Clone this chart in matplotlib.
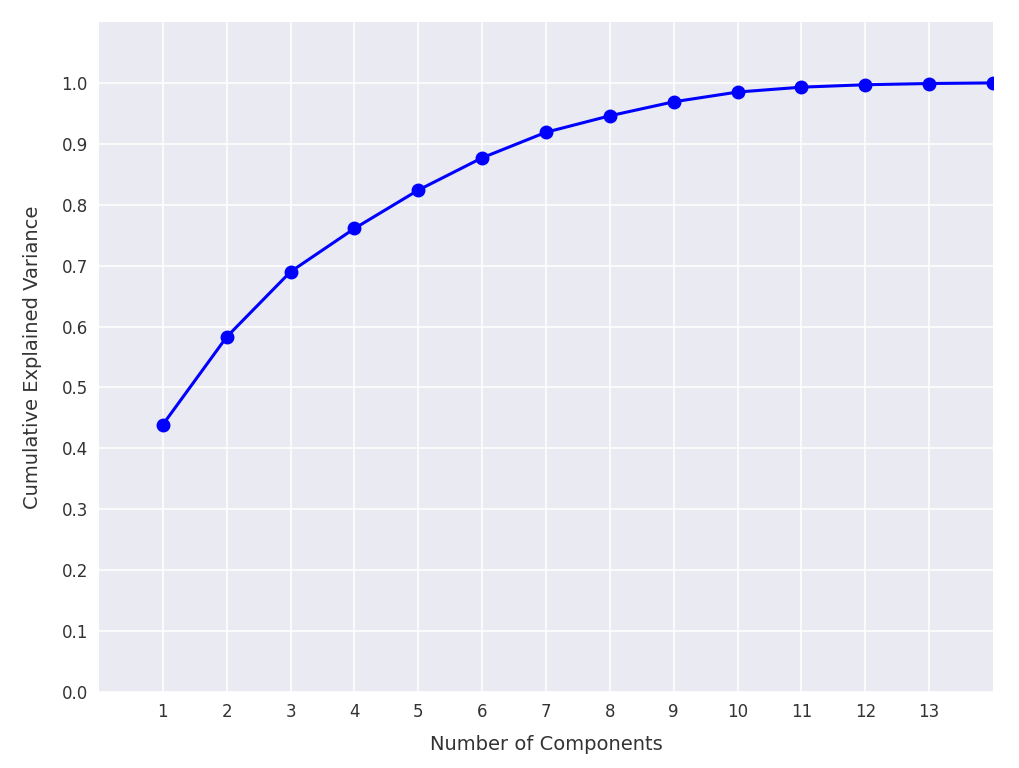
import matplotlib
matplotlib.use("Agg")
import matplotlib.pyplot as plt
import seaborn as sns

components = [1, 2, 3, 4, 5, 6, 7, 8, 9, 10, 11, 12, 13, 14]
cum_var = [0.439, 0.583, 0.690, 0.761, 0.824, 0.877, 0.919, 0.946, 0.969,
           0.985, 0.993, 0.997, 0.999, 1.000]
xticks = list(range(1, 14))
yticks = [0.0, 0.1, 0.2, 0.3, 0.4, 0.5, 0.6, 0.7, 0.8, 0.9, 1.0]

sns.set_style("darkgrid")
plt.rcParams['font.family'] = ['DejaVu Sans']

fig = plt.figure(figsize=(10.2, 7.68), dpi=100)
ax = fig.add_axes([99/1020, 1 - 692/768, (993-99)/1020, (692-22)/768])
ax.set_facecolor('#EAEAF2')
ax.plot(components, cum_var, color='blue', linewidth=2.2, marker='o',
        markersize=9, clip_on=True, zorder=3)
ax.set_xlim(0, 14)
ax.set_ylim(0, 1.1)
ax.set_xticks(xticks)
ax.set_yticks(yticks)
ax.set_yticklabels([f"{v:.1f}" for v in yticks])
ax.grid(True, color='white', linewidth=1.1)
for s in ax.spines.values():
    s.set_visible(False)
ax.tick_params(axis='both', length=0, labelsize=12, colors='#333333', pad=8)
ax.set_xlabel("Number of Components", fontsize=14, color='#333333', labelpad=10)
ax.set_ylabel("Cumulative Explained Variance", fontsize=14, color='#333333', labelpad=14)
fig.savefig("out.png", dpi=100, facecolor='white')
